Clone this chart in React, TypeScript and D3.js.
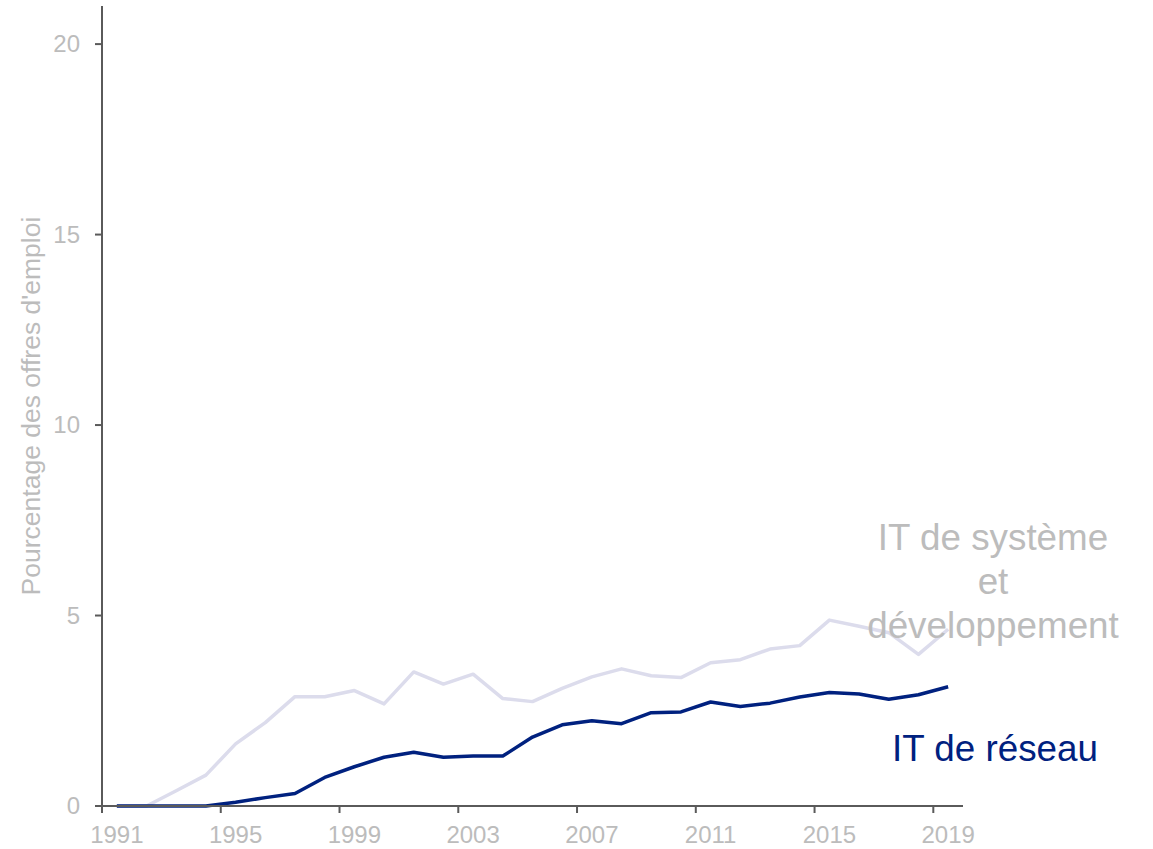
import React from "react";
import * as d3 from "d3";

const years: number[] = [1991,1992,1993,1994,1995,1996,1997,1998,1999,2000,2001,2002,2003,2004,2005,2006,2007,2008,2009,2010,2011,2012,2013,2014,2015,2016,2017,2018,2019];
const reseau: number[] = [0,0,0,0,0.1,0.22,0.33,0.75,1.03,1.28,1.41,1.28,1.31,1.31,1.81,2.13,2.24,2.16,2.45,2.47,2.73,2.61,2.7,2.86,2.98,2.94,2.8,2.92,3.13];
const systeme: number[] = [0,0,0.4,0.81,1.63,2.19,2.87,2.87,3.03,2.68,3.52,3.2,3.46,2.82,2.74,3.09,3.39,3.6,3.42,3.37,3.76,3.84,4.12,4.21,4.88,4.72,4.55,3.98,4.64];
const xTicks: number[] = [1991,1995,1999,2003,2007,2011,2015,2019];
const yTicks: number[] = [0,5,10,15,20];
const yTitle = "Pourcentage des offres d'emploi";
const labelSysteme: string[] = ["IT de système", "et", "développement"];
const labelReseau = "IT de réseau";

const W = 1153, H = 849;
const FONT = "'Liberation Sans', Arial, sans-serif";
const GRAY = "#bcbcbc";
const AXIS = "#5a5a5a";
const NAVY = "#00217f";
const LIGHT = "#dcdcec";

export default function App() {
  const x = d3.scaleLinear().domain([1991, 2020]).range([102, 963]);
  const y = d3.scaleLinear().domain([0, 21]).range([806, 6]);
  const line = d3.line<[number, number]>().x(d => x(d[0] + 0.5)).y(d => y(d[1]));
  const sysPts = years.map((yr, i) => [yr, systeme[i]] as [number, number]);
  const resPts = years.map((yr, i) => [yr, reseau[i]] as [number, number]);

  return (
    <svg width={W} height={H} style={{ position: "absolute", left: 0, top: 0, background: "#fff" }} fontFamily={FONT}>
      <path d={line(sysPts) || ""} fill="none" stroke={LIGHT} strokeWidth={3.5} strokeLinejoin="round" />
      <path d={line(resPts) || ""} fill="none" stroke={NAVY} strokeWidth={3.5} strokeLinejoin="round" />
      {/* axes */}
      <line x1={x(1991)} x2={x(1991)} y1={y(21)} y2={y(0) + 7} stroke={AXIS} strokeWidth={2} />
      <line x1={x(1991) - 7} x2={x(2020)} y1={y(0)} y2={y(0)} stroke={AXIS} strokeWidth={2} />
      {yTicks.map(t => (
        <g key={"y" + t}>
          <line x1={x(1991) - 7} x2={x(1991)} y1={y(t)} y2={y(t)} stroke={AXIS} strokeWidth={2} />
          <text x={80} y={y(t)} dy="0.35em" textAnchor="end" fontSize={24} fill={GRAY}>{t}</text>
        </g>
      ))}
      {xTicks.map(t => (
        <g key={"x" + t}>
          <line x1={x(t)} x2={x(t)} y1={y(0)} y2={y(0) + 7} stroke={AXIS} strokeWidth={2} />
          <text x={x(t + 0.5)} y={843} textAnchor="middle" fontSize={24} fill={GRAY}>{t}</text>
        </g>
      ))}
      <text transform={`translate(40,406) rotate(-90)`} textAnchor="middle" fontSize={26.5} fill={GRAY}>{yTitle}</text>
      {labelSysteme.map((s, i) => (
        <text key={s} x={993} y={550 + i * 44} textAnchor="middle" fontSize={36.8} fill={GRAY}>{s}</text>
      ))}
      <text x={995} y={761} textAnchor="middle" fontSize={36.8} fill={NAVY}>{labelReseau}</text>
    </svg>
  );
}
